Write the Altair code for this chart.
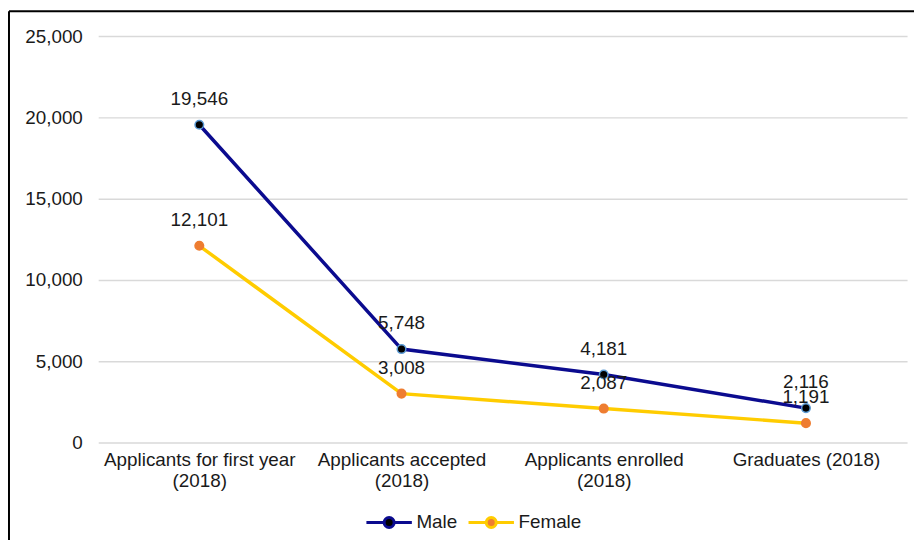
import altair as alt
import pandas as pd

categories = [
    "Applicants for first year (2018)",
    "Applicants accepted (2018)",
    "Applicants enrolled (2018)",
    "Graduates (2018)",
]
male = [19546, 5748, 4181, 2116]
female = [12101, 3008, 2087, 1191]
series = ["Male", "Female"]
y_ticks = [0, 5000, 10000, 15000, 20000, 25000]

rows = []
for s, vals in zip(series, [male, female]):
    for c, v in zip(categories, vals):
        rows.append({"category": c, "series": s, "value": v})
df = pd.DataFrame(rows)

FONT = "Liberation Sans"
TXT = "#1a1a1a"
FS = 19
LINE_COLORS = ["#0b0b8f", "#ffcc00"]
POINT_FILLS = ["#000000", "#ee7d31"]

label_expr = (
    "indexof(datum.label, 'Applicants') == 0 ? "
    "[replace(datum.label, ' (2018)', ''), '(2018)'] : datum.label"
)

x = alt.X(
    "category:N",
    sort=categories,
    title=None,
    scale=alt.Scale(padding=0.5),
    axis=alt.Axis(
        labelAngle=0, labelExpr=label_expr, domain=False, ticks=False, grid=False,
        labelFontSize=FS, labelFont=FONT, labelColor=TXT, labelPadding=8,
        labelLineHeight=21, labelLimit=0,
    ),
)
y = alt.Y(
    "value:Q",
    title=None,
    scale=alt.Scale(domain=[0, 25000], nice=False),
    axis=alt.Axis(
        values=y_ticks, format=",d", domain=False, ticks=False,
        labelFontSize=FS, labelFont=FONT, labelColor=TXT, labelPadding=16,
        gridColor="#d9d9d9", gridWidth=1.5,
    ),
)

legend_path = (
    "M-1,0H-0.22M0.22,0H1"
    "M-0.22,0A0.22,0.22,0,1,1,0.22,0A0.22,0.22,0,1,1,-0.22,0Z"
)
legend = alt.Legend(
    title=None, orient="none", direction="horizontal",
    legendX=269, legendY=466, padding=0,
    symbolType=legend_path, symbolSize=2100, symbolStrokeWidth=3,
    labelFontSize=FS, labelFont=FONT, labelColor=TXT, labelOffset=3,
    columnPadding=4,
)

base = alt.Chart(df)

lines = base.mark_line(strokeWidth=3.5).encode(
    x=x, y=y,
    stroke=alt.Stroke("series:N", sort=series,
                      scale=alt.Scale(domain=series, range=LINE_COLORS),
                      legend=legend),
)
points = base.mark_point(filled=True, size=75, strokeWidth=1.5, opacity=1).encode(
    x=x, y=y,
    fill=alt.Fill("series:N", sort=series,
                  scale=alt.Scale(domain=series, range=POINT_FILLS),
                  legend=legend),
    stroke=alt.condition(alt.datum.series == "Male", alt.value("#5b9bd5"), alt.value("#ee7d31")),
)
labels = base.mark_text(dy=-26, fontSize=FS, font=FONT, color=TXT, align="center").encode(
    x=x, y=y, text=alt.Text("value:Q", format=",d"),
)

border_df = pd.DataFrame({"a": [0]})
left_border = alt.Chart(border_df).mark_rule(color="#000000", strokeWidth=2).encode(
    x=alt.value(-90), y=alt.value(-25), y2=alt.value(520)
)
top_border = alt.Chart(border_df).mark_rule(color="#000000", strokeWidth=2).encode(
    x=alt.value(-90), x2=alt.value(830), y=alt.value(-25)
)

chart = alt.layer(left_border, top_border, lines, points, labels).properties(
    width=816, height=410,
    autosize=alt.AutoSizeParams(type="none"),
    padding={"left": 91, "top": 26, "right": 7, "bottom": 96},
    background="white",
).configure_view(stroke=None)

chart.save("out.html", embed_options={"renderer": "svg", "actions": False})
